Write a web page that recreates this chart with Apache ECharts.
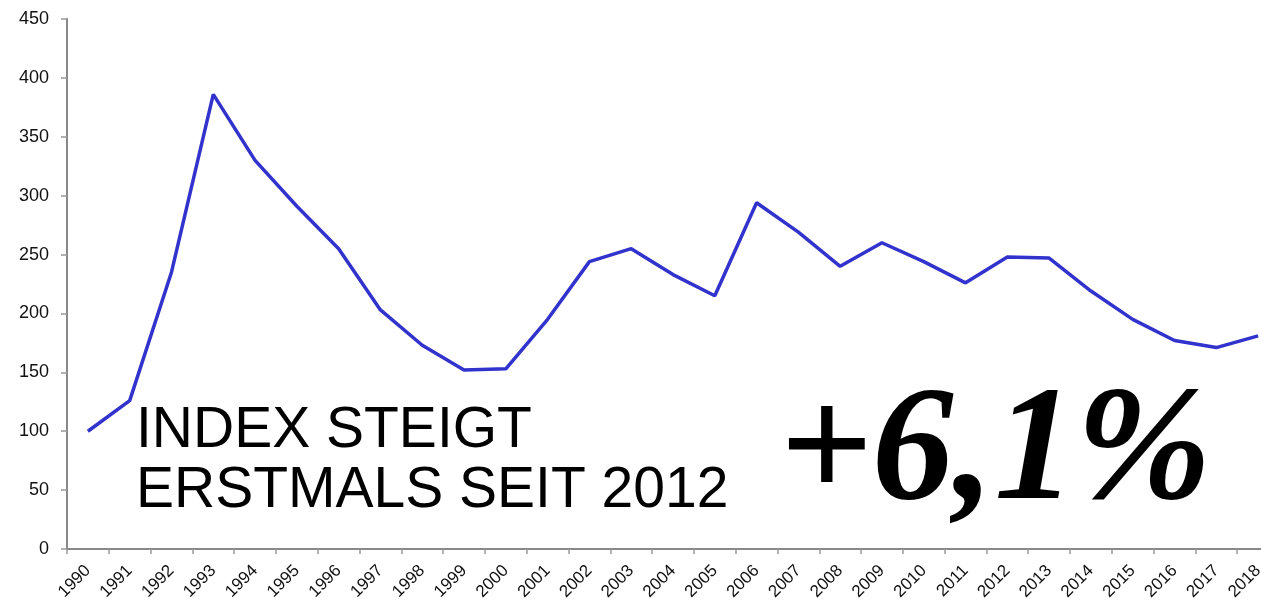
<!DOCTYPE html>
<html>
<head>
<meta charset="utf-8">
<script src="https://cdn.jsdelivr.net/npm/echarts@6/dist/echarts.min.js"></script>
<style>
html,body{margin:0;padding:0;background:#fff;}
#c{width:1261px;height:608px;}
</style>
</head>
<body>
<div id="c"></div>
<script>
const years = ['1990','1991','1992','1993','1994','1995','1996','1997','1998','1999','2000','2001','2002','2003','2004','2005','2006','2007','2008','2009','2010','2011','2012','2013','2014','2015','2016','2017','2018'];
const indexValues = [100,126,235,386,330,291,255,203,173,152,153,195,244,255,233,215,294,269,240,260,244,226,248,247,219,195,177,171,181];
const yTicks = {min:0, max:450, interval:50};
const headline = ['INDEX STEIGT','ERSTMALS SEIT 2012'];
const bigFigure = '+6,1%';

const chart = echarts.init(document.getElementById('c'), null, {renderer:'canvas'});
chart.setOption({
  animation:false,
  backgroundColor:'#ffffff',
  grid:{left:67, width:1212, top:19, height:530, containLabel:false, outerBoundsMode:'none'},
  xAxis:{
    type:'category',
    data:years,
    boundaryGap:true,
    axisLine:{lineStyle:{color:'#888888', width:2}},
    axisTick:{show:true, length:5, inside:false, alignWithLabel:false, lineStyle:{color:'#999999', width:1.5}},
    axisLabel:{interval:0, rotate:45, margin:19, fontFamily:'Liberation Sans, Arial, sans-serif', fontSize:17, color:'#111111', hideOverlap:false},
    splitLine:{show:false}
  },
  yAxis:{
    type:'value',
    min:yTicks.min, max:yTicks.max, interval:yTicks.interval,
    axisLine:{show:true, lineStyle:{color:'#888888', width:2}},
    axisTick:{show:true, length:6, lineStyle:{color:'#999999', width:1.5}},
    axisLabel:{margin:18, fontFamily:'Liberation Sans, Arial, sans-serif', fontSize:18, color:'#111111'},
    splitLine:{show:false}
  },
  series:[{
    type:'line',
    data:indexValues,
    symbol:'none',
    lineStyle:{color:'#3232cc', width:3.5},
    z:2
  }],
  graphic:[
    {type:'text', left:136, top:403, z:10, style:{text:headline[0], font:'57px "Liberation Sans", Arial, sans-serif', fill:'#000000'}},
    {type:'text', left:136, top:463, z:10, style:{text:headline[1], font:'57px "Liberation Sans", Arial, sans-serif', fill:'#000000'}},
    {type:'text', left:779, top:374, z:10, style:{text:bigFigure, font:'italic bold 163px "Liberation Serif", "Times New Roman", serif', fill:'#000000'}}
  ]
});
</script>
</body>
</html>
